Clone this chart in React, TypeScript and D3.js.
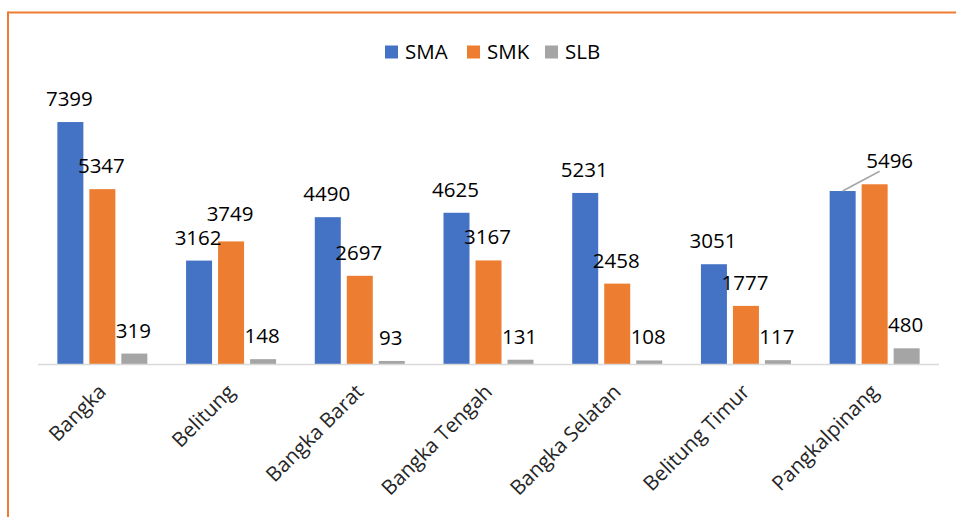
import React from "react";
import * as d3 from "d3";

const categories = [
  "Bangka",
  "Belitung",
  "Bangka Barat",
  "Bangka Tengah",
  "Bangka Selatan",
  "Belitung Timur",
  "Pangkalpinang",
];
const seriesNames = ["SMA", "SMK", "SLB"];
const sma = [7399, 3162, 4490, 4625, 5231, 3051, 5290];
const smk = [5347, 3749, 2697, 3167, 2458, 1777, 5496];
const slb = [319, 148, 93, 131, 108, 117, 480];
const colors = ["#4472C4", "#ED7D31", "#A5A5A5"];

const width = 956;
const height = 517;
const font = "'Open Sans', 'Noto Sans', sans-serif";

const App = () => {
  const values = [sma, smk, slb];

  const x0 = d3.scaleBand().domain(categories).range([38, 939]).padding(0);
  const x1 = d3
    .scaleBand()
    .domain(seriesNames)
    .range([0, x0.bandwidth()])
    .paddingInner(0.1875)
    .paddingOuter(0.605);
  const y = d3.scaleLinear().domain([0, 8000]).range([364, 102.4]);

  const bars = [];
  const labels = [];
  categories.forEach((c, i) => {
    seriesNames.forEach((s, j) => {
      const v = values[j][i];
      const bx = x0(c) + x1(s);
      const cx = bx + x1.bandwidth() / 2;
      bars.push(
        <rect
          key={`b-${c}-${s}`}
          x={bx}
          y={y(v)}
          width={x1.bandwidth()}
          height={y(0) - y(v)}
          fill={colors[j]}
        />
      );
      // last group: the SMA label is hidden, SMK label is moved and has a leader line
      if (c === "Pangkalpinang" && s === "SMA") return;
      if (c === "Pangkalpinang" && s === "SMK") {
        const smaX = x0(c) + x1("SMA") + x1.bandwidth() / 2;
        const lx = cx + 15;
        const ly = y(v) - 16;
        labels.push(
          <g key={`l-${c}-${s}`}>
            <line
              x1={smaX}
              y1={y(sma[i])}
              x2={lx - 10}
              y2={ly + 3}
              stroke="#A5A5A5"
              strokeWidth={1.5}
            />
            <text x={lx} y={ly} textAnchor="middle" fontSize={20.5} fontFamily={font} fill="#000">
              {v}
            </text>
          </g>
        );
        return;
      }
      const extra = c === "Belitung" && s === "SMK" ? 4 : 0;
      labels.push(
        <text
          key={`l-${c}-${s}`}
          x={cx - 1}
          y={y(v) - 16 - extra}
          textAnchor="middle"
          fontSize={20.5}
          fontFamily={font}
          fill="#000"
        >
          {v}
        </text>
      );
    });
  });

  const legendX = [385, 467, 545];

  return (
    <svg
      width={width}
      height={height}
      style={{ position: "absolute", left: 0, top: 0, background: "#fff" }}
    >
      {/* frame */}
      <line x1={8} y1={12.5} x2={width} y2={12.5} stroke="#ED7D31" strokeWidth={2} />
      <line x1={8} y1={11.5} x2={8} y2={height} stroke="#ED7D31" strokeWidth={2} />

      {/* legend */}
      {seriesNames.map((s, j) => (
        <g key={`lg-${s}`}>
          <rect x={legendX[j]} y={45.5} width={13} height={13} fill={colors[j]} />
          <text x={legendX[j] + 20} y={58.5} fontSize={20.5} fontFamily={font} fill="#000">
            {s}
          </text>
        </g>
      ))}

      {bars}

      {/* axis line */}
      <line x1={38} y1={364.5} x2={939} y2={364.5} stroke="#D9D9D9" strokeWidth={1.5} />

      {labels}

      {/* category labels */}
      {categories.map((c) => {
        const cx = x0(c) + x0.bandwidth() / 2 + 5;
        const cy = 393;
        return (
          <text
            key={`c-${c}`}
            x={cx}
            y={cy}
            textAnchor="end"
            transform={`rotate(-45 ${cx} ${cy})`}
            fontSize={20.5}
            fontFamily={font}
            fill="#262626"
          >
            {c}
          </text>
        );
      })}
    </svg>
  );
};

export default App;
